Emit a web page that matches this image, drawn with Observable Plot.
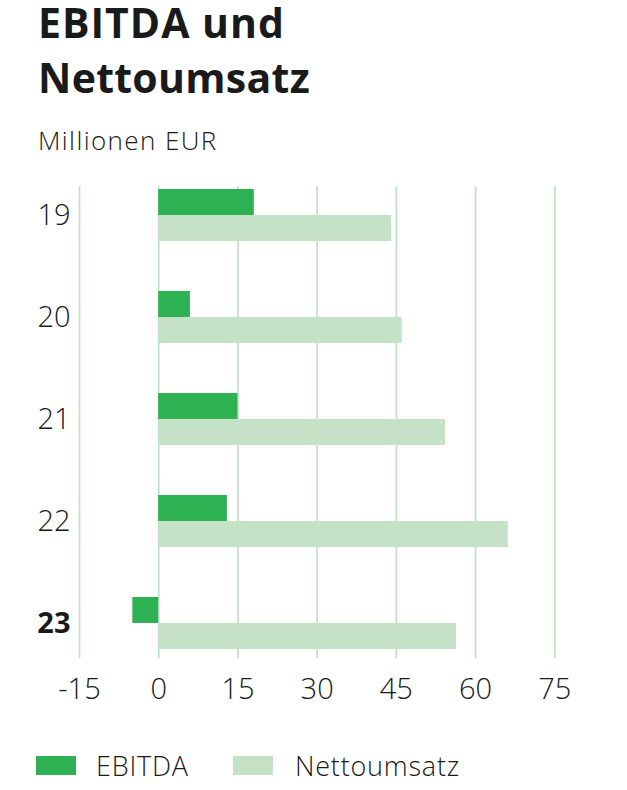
<!DOCTYPE html>
<html><head><meta charset="utf-8">
<script src="https://cdn.jsdelivr.net/npm/d3@7"></script>
<script src="https://cdn.jsdelivr.net/npm/@observablehq/plot@0.6"></script>
<style>
body{margin:0;background:#fff;font-family:"Open Sans",sans-serif;color:#1a1a1a;}
#wrap{position:relative;width:627px;height:790px;}
.title{position:absolute;left:38px;font-size:41px;font-weight:700;line-height:44px;letter-spacing:1px;white-space:nowrap;}
#sub{position:absolute;left:38px;top:125px;font-size:26px;line-height:30px;letter-spacing:1.4px;font-weight:300;}
#chart{position:absolute;left:0;top:160px;}
#legend{position:absolute;left:36px;top:747px;display:flex;align-items:center;font-size:27px;font-weight:300;letter-spacing:0.8px;}
.sw{width:40px;height:19px;display:inline-block;margin-right:20px;}
</style></head>
<body><div id="wrap">
<div class="title" style="top:0px">EBITDA und</div>
<div class="title" style="top:55px;letter-spacing:0.3px">Nettoumsatz</div>
<div id="sub">Millionen EUR</div>
<div id="chart"></div>
<div id="legend"><span class="sw" style="background:#2db153"></span><span style="margin-right:44px">EBITDA</span><span class="sw" style="background:#c5e2c6;margin-right:22px"></span><span>Nettoumsatz</span></div>
</div>
<script>
const years = ["19","20","21","22","23"];
const ebitda = [18.1, 6.0, 15.0, 13.0, -4.9];
const netto = [44.1, 46.1, 54.3, 66.2, 56.4];
const xTicks = [-15, 0, 15, 30, 45, 60, 75];
const cEbitda = "#2db153";
const cNetto = "#c5e2c6";

const rows = years.map((y, i) => ({year: y, ebitda: ebitda[i], netto: netto[i]}));

const plot = Plot.plot({
  width: 627,
  height: 555,
  marginTop: 26,
  marginBottom: 57,
  marginLeft: 79,
  marginRight: 72.7,
  style: {fontFamily: "Open Sans, sans-serif", fontSize: "29px", color: "#1a1a1a"},
  x: {domain: [-15, 75], ticks: xTicks, tickFormat: d => String(d)},
  y: {domain: years, paddingInner: 0.49, paddingOuter: 0.052, align: 0.28},
  marks: [
    Plot.ruleX(xTicks, {stroke: "#c5e2c6", strokeWidth: 1.8}),
    Plot.barX(rows, {y: "year", x: "netto", fill: cNetto, insetTop: 26}),
    Plot.barX(rows, {y: "year", x: "ebitda", fill: cEbitda, insetBottom: 26}),
    Plot.axisX({ticks: xTicks, tickFormat: d => String(d), tickSize: 0, tickPadding: 20, fontSize: 29, fontWeight: 300, label: null}),
    Plot.axisY({ticks: years.slice(0, 4), tickSize: 0, tickPadding: 9, fontSize: 29, fontWeight: 300, label: null}),
    Plot.axisY({ticks: years.slice(4), tickSize: 0, tickPadding: 9, fontSize: 29, fontWeight: "bold", label: null})
  ]
});
document.getElementById("chart").appendChild(plot);
</script>
</body></html>
